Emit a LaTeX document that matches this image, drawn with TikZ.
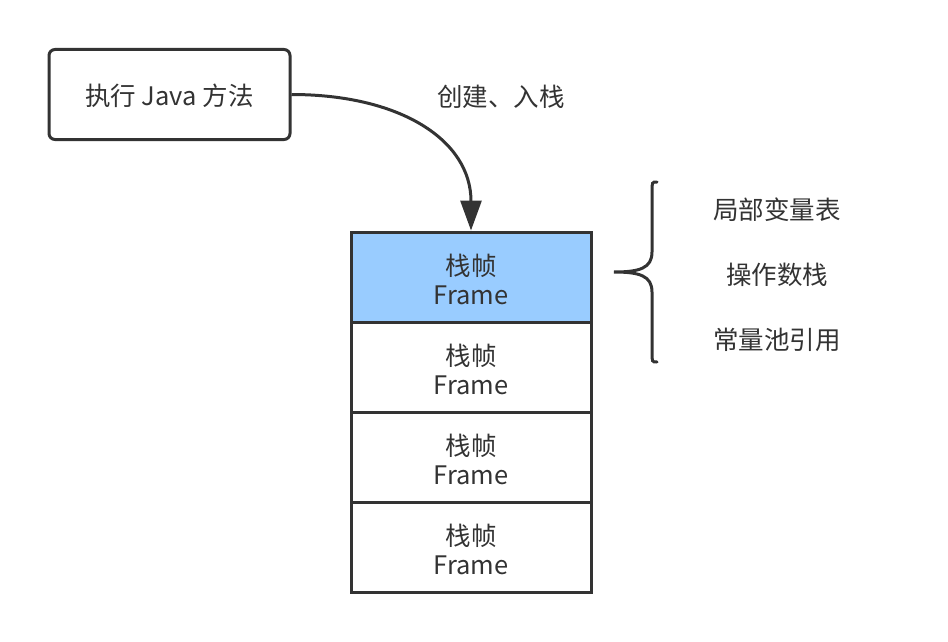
\documentclass[tikz,border=0pt]{standalone}
\usepackage{fontspec}
\setmainfont{Noto Sans CJK SC}
\usetikzlibrary{arrows.meta}
\definecolor{ink}{HTML}{333333}
\definecolor{topblue}{HTML}{99CCFF}
\tikzset{
  txt/.style={text=ink, font=\fontsize{25.5}{30}\selectfont, inner sep=0pt},
  startbox/.style={draw=ink, line width=3pt, rounded corners=6pt, fill=white},
  framebox/.style={draw=ink, line width=3pt, minimum width=240pt, minimum height=90pt, inner sep=0pt, text=ink},
  frametxt/.style={align=center, text=ink, font=\fontsize{25.5}{30}\selectfont, inner sep=0pt},
  conn/.style={draw=ink, line width=3pt, -{Triangle[length=30pt,width=21pt]}},
  bracepath/.style={draw=ink, line width=3pt, line cap=round}
}
\begin{document}
\begin{tikzpicture}[x=1pt,y=-1pt]
\useasboundingbox (0,0) rectangle (948,642);
\fill[white] (0,0) rectangle (948,642);
\node[startbox, minimum width=241pt, minimum height=90pt, inner sep=0pt] (start) at (169.5,94.5) {};
\node[txt] (starttxt) at (169.5,96) {执行 Java 方法};
\node[framebox, fill=topblue] (f1) at (471,277) {};
\node[framebox] (f2) at (471,367) {};
\node[framebox] (f3) at (471,457) {};
\node[framebox] (f4) at (471,547) {};
\node[frametxt] (t1) at (471,279) {栈帧\\[-1pt]Frame};
\node[frametxt] (t2) at (471,369) {栈帧\\[-1pt]Frame};
\node[frametxt] (t3) at (471,459) {栈帧\\[-1pt]Frame};
\node[frametxt] (t4) at (471,549) {栈帧\\[-1pt]Frame};
\draw[conn] (start.east) .. controls (400,94.5) and (471,140) .. (f1.north);
\node[txt] (lbl) at (501,97) {创建、入栈};
\coordinate (btop) at (657,182);
\coordinate (btip) at (614,272);
\coordinate (bbot) at (657,362);
\draw[bracepath] (btop) .. controls (652,182) .. (652,192) -- (652,252) .. controls (652,268) and (640,272) .. (btip)
  .. controls (640,272) and (652,276) .. (652,292) -- (652,352) .. controls (652,362) .. (bbot);
\node[txt] (l1) at (777,210) {局部变量表};
\node[txt] (l2) at (777,275) {操作数栈};
\node[txt] (l3) at (777,340) {常量池引用};
\end{tikzpicture}
\end{document}
